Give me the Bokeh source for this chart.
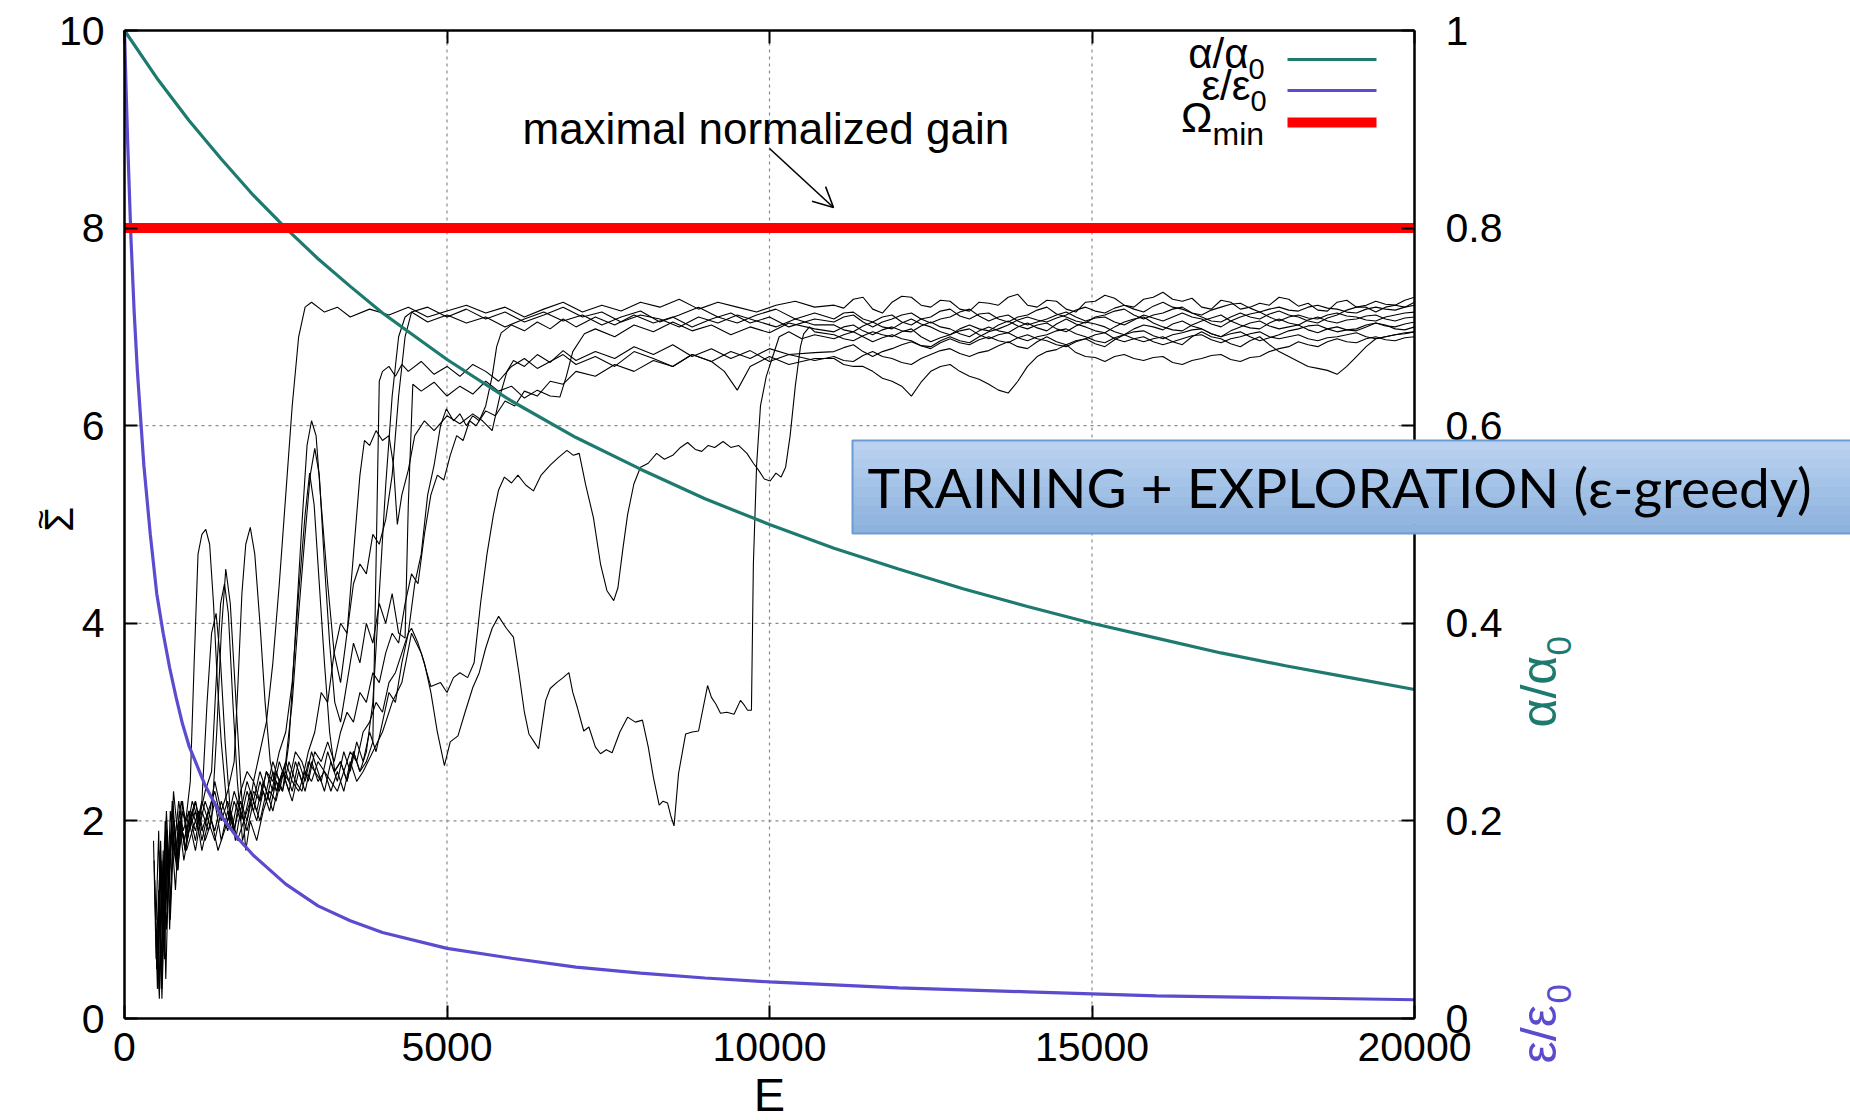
import math
from bokeh.plotting import figure
from bokeh.models import (Range1d, LinearAxis, Label, Arrow, OpenHead, FixedTicker,
                          CustomJSTickFormatter)
from bokeh.embed import file_html
from bokeh.resources import INLINE

# ---------------- data ----------------
x_ticks = [0, 5000, 10000, 15000, 20000]
y_ticks = [0, 2, 4, 6, 8, 10]
y2_ticks = [0, 0.2, 0.4, 0.6, 0.8, 1.0]
x_grid = [5000, 10000, 15000]
y_grid = [2, 4, 6, 8]

alpha_e = [0, 500, 1000, 1500, 2000, 2500, 3000, 3500, 4000, 5000, 6000, 7000, 8000, 9000,
           10000, 11000, 12000, 13000, 14000, 15000, 16000, 17000, 18000, 19000, 20000]
alpha_v = [1.0, 0.952, 0.909, 0.87, 0.833, 0.80, 0.769, 0.741, 0.714, 0.667, 0.625, 0.588, 0.556,
           0.526, 0.50, 0.476, 0.455, 0.435, 0.417, 0.40, 0.385, 0.37, 0.357, 0.345, 0.333]

eps_e = [0, 25, 50, 100, 150, 200, 300, 400, 500, 600, 700, 800, 900, 1000, 1250, 1500, 1750,
         2000, 2500, 3000, 3500, 4000, 5000, 6000, 7000, 8000, 9000, 10000, 12000, 14000, 16000,
         18000, 20000]
eps_v = [1.0, 0.94, 0.885, 0.79, 0.715, 0.655, 0.56, 0.49, 0.43, 0.39, 0.355, 0.325, 0.298, 0.276,
         0.236, 0.205, 0.183, 0.165, 0.136, 0.114, 0.099, 0.087, 0.071, 0.061, 0.052, 0.046,
         0.041, 0.037, 0.031, 0.027, 0.023, 0.021, 0.019]

omega_e = [0, 20000]
omega_v = [8, 8]

# late plateau of the ten runs: values at band_e and at the points half-way between them
band_e = [11000, 11300, 11600, 11900, 12200, 12500, 12800, 13100, 13400, 13700, 14000, 14300,
          14600, 14900, 15200, 15500, 15800, 16100, 16400, 16700, 17000, 17300, 17600, 17900,
          18200, 18500, 18800, 19100, 19400, 19700, 20000]
mid_e = [11150, 11450, 11750, 12050, 12350, 12650, 12950, 13250, 13550, 13850, 14150, 14450,
         14750, 15050, 15350, 15650, 15950, 16250, 16550, 16850, 17150, 17450, 17750, 18050,
         18350, 18650, 18950, 19250, 19550, 19850]

run1 = [(470, 1.4), (510, 0.3), (550, 1.7), (590, 0.8), (630, 2.0), (680, 1.3), (730, 1.9), (790, 1.6),
        (850, 2.1), (920, 1.8), (1000, 2.0), (1100, 2.2), (1200, 1.9), (1300, 2.1), (1400, 2.3),
        (1500, 2.0), (1600, 2.2), (1700, 1.9), (1800, 2.3), (1900, 2.5), (2000, 2.4), (2100, 2.7),
        (2200, 3.0), (2300, 3.6), (2400, 4.4), (2500, 5.3), (2600, 6.2), (2700, 6.9), (2800, 7.2),
        (2900, 7.25), (3100, 7.15), (3300, 7.2), (3500, 7.1), (3800, 7.18), (4100, 7.12), (4400, 7.2),
        (4700, 7.1), (5000, 7.16), (5300, 7.22), (5600, 7.14), (5900, 7.2), (6200, 7.1), (6500, 7.18),
        (6800, 7.25), (7100, 7.15), (7400, 7.22), (7700, 7.16), (8000, 7.25), (8300, 7.2), (8600, 7.28),
        (8900, 7.18), (9200, 7.25), (9500, 7.2), (9800, 7.15), (10100, 7.22), (10400, 7.26), (10700, 7.2)]
band1 = [7.22, 7.28, 7.18, 7.25, 7.3, 7.2, 7.26, 7.16, 7.24, 7.3, 7.22, 7.27, 7.18, 7.25, 7.32, 7.22,
         7.28, 7.35, 7.26, 7.2, 7.27, 7.18, 7.24, 7.3, 7.21, 7.17, 7.25, 7.2, 7.15, 7.22, 7.25]
mid1 = [7.19, 7.3, 7.14, 7.31, 7.22, 7.27, 7.18, 7.25, 7.22, 7.33, 7.2, 7.26, 7.15, 7.26, 7.29, 7.2,
        7.3, 7.28, 7.29, 7.18, 7.25, 7.2, 7.22, 7.28, 7.24, 7.16, 7.27, 7.2, 7.2, 7.2]

run2 = [(490, 1.0), (530, 1.9), (570, 0.5), (610, 1.5), (650, 2.1), (700, 1.4), (760, 2.3), (820, 1.9),
        (880, 2.2), (950, 2.0), (1020, 2.4), (1080, 3.6), (1140, 4.7), (1200, 4.9), (1260, 4.95),
        (1320, 4.8), (1380, 4.2), (1440, 3.4), (1500, 2.8), (1580, 2.2), (1660, 1.9), (1750, 2.2),
        (1850, 2.0), (1950, 2.3), (2050, 2.1), (2150, 2.4), (2250, 2.2), (2350, 2.5), (2450, 2.3),
        (2550, 2.6), (2650, 2.4), (2750, 2.3), (2850, 2.6), (2950, 2.5), (3050, 2.4), (3150, 2.7),
        (3250, 2.5), (3350, 2.6), (3450, 2.4), (3550, 2.7), (3650, 2.5), (3750, 2.7), (3850, 3.2),
        (3950, 4.3), (4050, 5.4), (4150, 6.3), (4250, 6.9), (4350, 7.1), (4450, 7.15), (4700, 7.05),
        (5000, 7.12), (5300, 7.04), (5600, 7.1), (5900, 7.0), (6200, 7.08), (6500, 7.15), (6800, 7.06),
        (7100, 7.12), (7400, 7.02), (7700, 7.1), (8000, 7.16), (8300, 7.05), (8600, 7.12), (8900, 7.2),
        (9200, 7.1), (9500, 7.04), (9800, 7.12), (10100, 7.18), (10400, 7.08), (10700, 7.14)]
band2 = [7.08, 7.15, 7.05, 7.12, 7.02, 7.1, 7.18, 7.08, 7.14, 7.05, 7.12, 7.2, 7.1, 7.04, 7.12, 7.18,
         7.08, 7.14, 7.2, 7.1, 7.05, 7.14, 7.08, 7.16, 7.1, 7.04, 7.12, 7.2, 7.26, 7.22, 7.3]
mid2 = [7.14, 7.08, 7.1, 7.05, 7.08, 7.16, 7.11, 7.13, 7.08, 7.1, 7.17, 7.13, 7.06, 7.1, 7.16, 7.12,
        7.12, 7.18, 7.14, 7.06, 7.1, 7.1, 7.13, 7.12, 7.06, 7.09, 7.17, 7.22, 7.23, 7.27]

run3 = [(520, 0.6), (560, 1.8), (600, 0.9), (640, 2.0), (690, 1.5), (740, 2.2), (800, 1.7), (860, 2.0),
        (930, 1.8), (1000, 2.1), (1100, 1.9), (1200, 2.2), (1300, 2.0), (1400, 2.4), (1500, 2.1),
        (1600, 2.3), (1700, 2.6), (1760, 3.4), (1820, 4.3), (1880, 4.8), (1950, 4.97), (2020, 4.7),
        (2100, 4.0), (2180, 3.2), (2260, 2.6), (2350, 2.3), (2450, 2.5), (2550, 2.3), (2650, 2.6),
        (2750, 2.4), (2850, 2.7), (2950, 2.9), (3050, 3.3), (3150, 3.2), (3250, 3.7), (3350, 4.0),
        (3450, 3.9), (3550, 4.4), (3650, 4.6), (3750, 4.5), (3850, 4.9), (3950, 4.8), (4050, 5.05),
        (4150, 5.5), (4250, 6.3), (4350, 6.9), (4450, 7.15), (4700, 7.2), (5000, 7.1), (5300, 7.18),
        (5600, 7.08), (5900, 7.15), (6200, 7.05), (6500, 7.12), (6800, 7.2), (7100, 7.1), (7400, 7.15),
        (7700, 7.05), (8000, 7.12), (8300, 7.08), (8600, 7.0), (8900, 7.1), (9200, 7.04), (9500, 7.12),
        (9800, 7.06), (10100, 7.0), (10400, 7.08), (10700, 7.02)]
band3 = [7.02, 6.95, 7.05, 6.98, 7.08, 7.0, 6.92, 7.02, 6.96, 7.06, 6.98, 7.04, 6.95, 7.05, 7.0, 6.92,
         7.02, 6.97, 7.06, 6.98, 6.9, 7.0, 7.06, 6.98, 7.02, 6.94, 7.0, 6.96, 7.04, 6.98, 7.0]
mid3 = [6.97, 7.01, 7.0, 7.04, 7.03, 6.95, 6.98, 6.98, 7.02, 7.01, 7.02, 6.98, 7.01, 7.03, 6.95, 6.98,
        7.0, 7.03, 7.01, 6.93, 6.96, 7.04, 7.01, 7.0, 6.97, 6.98, 6.97, 7.0, 7.02, 6.97]

run4 = [(540, 0.4), (580, 1.6), (620, 0.7), (660, 1.9), (710, 1.2), (770, 2.0), (830, 1.6), (900, 2.1),
        (970, 1.9), (1050, 2.2), (1150, 2.0), (1250, 2.3), (1350, 2.5), (1420, 3.4), (1490, 4.2),
        (1550, 4.4), (1610, 4.1), (1680, 3.2), (1750, 2.4), (1830, 1.8), (1900, 2.0), (2000, 2.3),
        (2100, 2.2), (2200, 2.5), (2300, 2.4), (2400, 2.7), (2500, 2.9), (2600, 3.4), (2700, 4.3),
        (2800, 5.1), (2870, 5.52), (2940, 5.2), (3020, 4.4), (3100, 3.6), (3180, 2.9), (3260, 2.5),
        (3350, 2.6), (3450, 2.4), (3550, 2.7), (3650, 2.5), (3750, 2.6), (3850, 2.8), (3900, 4.6),
        (3950, 6.45), (4000, 6.55), (4100, 6.6), (4200, 6.5), (4300, 6.62), (4400, 6.55), (4600, 6.65),
        (4800, 6.52), (5000, 6.6), (5200, 6.5), (5400, 6.62), (5600, 6.55), (5800, 6.45), (6000, 6.6),
        (6200, 6.68), (6400, 6.58), (6600, 6.65), (6800, 6.72), (7000, 6.62), (7300, 6.7), (7600, 6.6),
        (7900, 6.75), (8200, 6.68), (8500, 6.6), (8800, 6.72), (9100, 6.65), (9300, 6.55), (9500, 6.36),
        (9700, 6.6), (10000, 6.7), (10300, 6.62), (10700, 6.68)]
band4 = [6.68, 6.6, 6.55, 6.45, 6.3, 6.55, 6.62, 6.5, 6.42, 6.33, 6.6, 6.75, 6.82, 6.7, 6.65, 6.72,
         6.66, 6.7, 6.62, 6.68, 6.72, 6.65, 6.7, 6.78, 6.85, 6.8, 6.88, 6.84, 6.9, 6.86, 6.9]
mid4 = [6.62, 6.6, 6.48, 6.4, 6.44, 6.6, 6.55, 6.47, 6.36, 6.45, 6.7, 6.77, 6.74, 6.69, 6.7, 6.68,
        6.69, 6.64, 6.66, 6.71, 6.67, 6.69, 6.75, 6.8, 6.82, 6.85, 6.85, 6.88, 6.87, 6.89]

run5 = [(500, 0.9), (540, 0.2), (580, 1.3), (620, 0.6), (660, 1.7), (710, 1.0), (760, 1.8), (820, 1.5),
        (890, 1.9), (960, 1.7), (1050, 1.9), (1150, 2.1), (1250, 1.8), (1350, 2.0), (1450, 1.7),
        (1550, 1.9), (1650, 2.1), (1750, 1.8), (1850, 2.0), (1950, 2.2), (2050, 2.0), (2150, 2.3),
        (2250, 2.1), (2350, 2.4), (2450, 2.3), (2550, 2.8), (2650, 3.9), (2750, 5.0), (2830, 5.8),
        (2900, 6.05), (2970, 5.9), (3050, 5.2), (3150, 4.4), (3250, 3.7), (3350, 3.4), (3450, 3.9),
        (3550, 4.7), (3650, 5.5), (3720, 5.85), (3800, 5.8), (3900, 5.95), (4000, 5.85), (4100, 5.9),
        (4170, 5.6), (4230, 5.0), (4300, 5.3), (4400, 5.55), (4500, 5.9), (4650, 6.05), (4800, 5.95),
        (5000, 6.1), (5200, 6.02), (5400, 6.12), (5550, 6.05), (5700, 5.95), (5820, 6.3), (5930, 6.55),
        (6030, 6.66), (6200, 6.6), (6400, 6.72), (6600, 6.64), (6800, 6.76), (7000, 6.66), (7300, 6.75),
        (7600, 6.68), (7900, 6.8), (8200, 6.72), (8500, 6.82), (8800, 6.7), (9100, 6.78), (9400, 6.68),
        (9700, 6.76), (10000, 6.65), (10300, 6.72), (10700, 6.66)]
band5 = [6.7, 6.65, 6.75, 6.68, 6.62, 6.72, 6.78, 6.7, 6.76, 6.85, 6.78, 6.9, 6.82, 6.88, 6.8, 6.92,
         6.85, 6.9, 6.82, 6.95, 6.88, 6.8, 6.9, 6.75, 6.65, 6.58, 6.52, 6.7, 6.88, 6.92, 6.95]
mid5 = [6.66, 6.71, 6.7, 6.64, 6.68, 6.76, 6.73, 6.74, 6.81, 6.8, 6.85, 6.85, 6.86, 6.83, 6.87, 6.88,
        6.88, 6.85, 6.9, 6.9, 6.83, 6.86, 6.82, 6.7, 6.6, 6.56, 6.6, 6.8, 6.9, 6.93]

run6 = [(460, 1.6), (500, 0.5), (540, 1.2), (580, 0.3), (620, 1.8), (660, 1.1), (710, 2.1), (770, 1.7),
        (840, 2.2), (910, 1.9), (1000, 2.1), (1100, 1.8), (1200, 2.2), (1280, 3.2), (1350, 3.9),
        (1420, 4.1), (1490, 3.6), (1560, 2.8), (1640, 2.1), (1720, 1.8), (1800, 2.1), (1900, 1.9),
        (2000, 2.2), (2100, 2.0), (2200, 2.3), (2300, 2.1), (2400, 2.4), (2500, 2.6), (2600, 3.2),
        (2700, 4.1), (2800, 4.9), (2880, 5.5), (2950, 5.77), (3020, 5.5), (3100, 4.6), (3180, 3.8),
        (3260, 3.2), (3350, 3.0), (3450, 3.4), (3550, 3.8), (3650, 3.6), (3750, 4.0), (3850, 3.8),
        (3950, 4.2), (4050, 4.0), (4150, 4.3), (4250, 3.9), (4350, 3.85), (4400, 5.2), (4470, 6.42),
        (4600, 6.35), (4800, 6.44), (5000, 6.3), (5200, 6.4), (5400, 6.32), (5600, 6.45), (5800, 6.35),
        (6000, 6.4), (6200, 6.28), (6400, 6.36), (6600, 6.3), (6750, 6.29), (6850, 6.5), (6950, 6.75),
        (7130, 6.93), (7300, 6.98), (7600, 6.9), (7900, 7.02), (8200, 6.95), (8500, 7.05), (8800, 6.96),
        (9100, 7.02), (9400, 6.92), (9700, 7.0), (10000, 6.94), (10300, 7.04), (10700, 6.98)]
band6 = [6.95, 7.02, 6.92, 7.0, 6.95, 7.05, 6.98, 6.9, 7.0, 6.94, 7.04, 6.96, 7.08, 7.0, 6.94, 7.05,
         7.1, 7.0, 6.96, 7.06, 7.12, 7.02, 6.98, 7.08, 7.02, 7.1, 7.04, 7.08, 7.12, 7.06, 7.1]
mid6 = [7.0, 6.96, 6.97, 6.96, 7.01, 7.0, 6.93, 6.96, 6.96, 7.0, 6.99, 7.03, 7.03, 6.96, 7.0, 7.08,
        7.04, 6.97, 7.02, 7.09, 7.06, 6.99, 7.04, 7.04, 7.07, 7.06, 7.07, 7.11, 7.08, 7.09]

run7 = [(560, 0.8), (600, 1.7), (640, 0.4), (680, 1.4), (730, 1.9), (790, 1.3), (850, 2.0), (920, 1.6),
        (1000, 1.9), (1100, 2.2), (1200, 1.8), (1300, 2.1), (1400, 1.9), (1500, 2.2), (1600, 2.0),
        (1700, 2.3), (1800, 2.1), (1900, 2.4), (2000, 2.2), (2100, 2.5), (2200, 2.3), (2300, 2.6),
        (2400, 2.4), (2500, 2.5), (2600, 2.3), (2700, 2.6), (2800, 2.4), (2900, 2.7), (3000, 2.5),
        (3100, 2.3), (3200, 2.6), (3300, 2.4), (3400, 2.7), (3500, 2.5), (3600, 2.8), (3700, 2.6),
        (3800, 2.9), (3900, 2.7), (4000, 3.0), (4100, 3.3), (4200, 3.2), (4300, 3.6), (4400, 3.9),
        (4500, 4.4), (4600, 4.7), (4700, 5.3), (4800, 5.6), (4900, 6.0), (4990, 6.17), (5100, 6.05),
        (5200, 6.12), (5300, 6.0), (5400, 6.1), (5500, 6.05), (5600, 6.2), (5700, 6.5), (5770, 6.8),
        (5840, 6.94), (6000, 7.02), (6200, 6.96), (6400, 7.05), (6600, 6.98), (6800, 7.08), (7000, 7.0),
        (7300, 7.1), (7600, 7.02), (7900, 7.12), (8200, 7.04), (8500, 7.1), (8800, 7.0), (9100, 7.08),
        (9400, 7.14), (9700, 7.04), (10000, 7.1), (10300, 7.0), (10700, 7.08)]
band7 = [7.05, 7.12, 7.0, 7.08, 7.14, 7.04, 7.1, 7.18, 7.06, 7.12, 7.02, 7.08, 7.15, 7.06, 7.1, 7.02,
         7.12, 7.06, 7.14, 7.08, 7.0, 7.1, 7.15, 7.06, 7.12, 7.08, 7.14, 7.1, 7.06, 7.12, 7.15]
mid7 = [7.1, 7.05, 7.05, 7.12, 7.08, 7.08, 7.15, 7.11, 7.1, 7.06, 7.05, 7.12, 7.1, 7.09, 7.05, 7.07,
        7.09, 7.1, 7.1, 7.03, 7.06, 7.13, 7.1, 7.1, 7.09, 7.12, 7.11, 7.07, 7.1, 7.14]

run8 = [(480, 1.1), (520, 0.3), (560, 1.5), (600, 0.8), (640, 1.9), (690, 1.4), (750, 2.2), (810, 1.6),
        (870, 2.0), (940, 1.7), (1000, 2.0), (1100, 1.7), (1200, 2.1), (1300, 1.9), (1400, 2.2),
        (1500, 1.8), (1600, 2.1), (1700, 1.9), (1800, 2.2), (1900, 2.0), (2000, 2.4), (2100, 2.2),
        (2200, 2.5), (2300, 2.3), (2400, 2.6), (2500, 2.4), (2600, 2.2), (2700, 2.5), (2800, 2.3),
        (2900, 2.6), (3000, 2.4), (3100, 2.5), (3200, 2.3), (3300, 2.5), (3400, 2.3), (3500, 2.6),
        (3600, 2.4), (3700, 2.5), (3850, 2.7), (4000, 2.9), (4150, 3.2), (4300, 3.4), (4450, 3.9),
        (4600, 3.7), (4750, 3.36), (4900, 3.4), (5000, 3.3), (5100, 3.45), (5200, 3.5), (5320, 3.45),
        (5420, 3.6), (5520, 4.2), (5620, 4.7), (5720, 5.1), (5800, 5.35), (5890, 5.48), (6000, 5.42),
        (6100, 5.5), (6220, 5.4), (6340, 5.34), (6460, 5.5), (6600, 5.6), (6730, 5.68), (6860, 5.75),
        (6960, 5.7), (7050, 5.72), (7150, 5.4), (7270, 5.07), (7380, 4.6), (7480, 4.33), (7585, 4.23),
        (7650, 4.36), (7724, 4.74), (7800, 5.1), (7897, 5.41), (8000, 5.58), (8120, 5.62), (8250, 5.72),
        (8370, 5.66), (8500, 5.7), (8620, 5.78), (8730, 5.83), (8850, 5.76), (8950, 5.74), (9050, 5.8),
        (9150, 5.78), (9280, 5.84), (9400, 5.78), (9520, 5.8), (9650, 5.72), (9750, 5.62), (9830, 5.55),
        (9920, 5.46), (10010, 5.44), (10100, 5.52), (10180, 5.48), (10250, 5.58), (10320, 5.9),
        (10400, 6.4), (10480, 6.8), (10530, 6.93), (10620, 7.0), (10700, 6.95)]
band8 = [6.92, 6.86, 6.95, 6.9, 6.98, 6.85, 6.92, 6.98, 6.88, 6.94, 6.86, 6.92, 6.98, 6.9, 6.84, 6.92,
         6.96, 6.88, 6.94, 6.98, 6.9, 6.95, 6.86, 6.92, 6.98, 7.02, 6.95, 6.98, 7.04, 7.0, 7.05]
mid8 = [6.88, 6.91, 6.92, 6.95, 6.9, 6.89, 6.96, 6.92, 6.92, 6.89, 6.9, 6.96, 6.93, 6.86, 6.89, 6.95,
        6.91, 6.92, 6.97, 6.93, 6.93, 6.9, 6.89, 6.96, 7.01, 6.98, 6.97, 7.02, 7.01, 7.03]

run9 = [(500, 0.5), (540, 1.4), (580, 0.2), (620, 1.1), (660, 1.8), (700, 0.9), (750, 1.9), (810, 1.5),
        (870, 2.0), (940, 1.7), (1000, 1.9), (1100, 2.1), (1200, 1.7), (1300, 2.0), (1400, 1.8),
        (1500, 2.1), (1600, 1.9), (1700, 2.2), (1800, 2.0), (1900, 2.3), (2000, 2.1), (2100, 2.4),
        (2200, 2.2), (2300, 2.5), (2400, 2.3), (2500, 2.6), (2600, 2.4), (2700, 2.3), (2800, 2.5),
        (2900, 2.4), (3000, 2.6), (3100, 2.5), (3200, 2.4), (3300, 2.3), (3400, 2.5), (3500, 2.7),
        (3600, 2.6), (3700, 2.9), (3800, 3.0), (3900, 3.2), (4000, 3.1), (4100, 3.4), (4200, 3.5),
        (4300, 3.7), (4400, 3.9), (4450, 3.95), (4550, 3.8), (4650, 3.6), (4750, 3.3), (4850, 2.9),
        (4960, 2.56), (5050, 2.8), (5170, 2.86), (5280, 3.1), (5400, 3.35), (5500, 3.5), (5600, 3.75),
        (5700, 3.95), (5800, 4.07), (5920, 3.95), (6030, 3.86), (6110, 3.52), (6200, 3.1), (6270, 2.88),
        (6350, 2.8), (6420, 2.73), (6480, 3.0), (6530, 3.22), (6600, 3.34), (6700, 3.4), (6800, 3.45),
        (6890, 3.5), (6950, 3.3), (7020, 3.15), (7120, 2.91), (7200, 2.95), (7300, 2.75), (7380, 2.68),
        (7470, 2.72), (7560, 2.69), (7680, 2.9), (7800, 3.05), (7920, 3.0), (8030, 3.02), (8120, 2.75),
        (8200, 2.44), (8290, 2.16), (8350, 2.2), (8420, 2.18), (8470, 2.05), (8520, 1.95), (8590, 2.48),
        (8700, 2.88), (8800, 2.9), (8900, 2.91), (9040, 3.37), (9100, 3.25), (9170, 3.18), (9240, 3.09),
        (9340, 3.1), (9450, 3.08), (9550, 3.22), (9600, 3.18), (9660, 3.12), (9720, 3.12), (9750, 4.6),
        (9800, 5.6), (9860, 6.2), (9950, 6.5), (10050, 6.7), (10150, 6.9), (10300, 6.95), (10500, 6.88),
        (10700, 6.92)]
band9 = [6.88, 6.95, 6.85, 6.92, 6.86, 6.78, 6.88, 6.82, 6.9, 6.84, 6.92, 6.86, 6.8, 6.88, 6.94, 6.85,
         6.9, 6.82, 6.88, 6.92, 6.84, 6.9, 6.95, 6.88, 6.92, 6.86, 6.9, 6.94, 6.88, 6.92, 6.95]
mid9 = [6.92, 6.9, 6.89, 6.88, 6.81, 6.84, 6.84, 6.87, 6.86, 6.89, 6.88, 6.82, 6.85, 6.92, 6.88, 6.88,
        6.85, 6.85, 6.91, 6.87, 6.88, 6.93, 6.9, 6.9, 6.88, 6.89, 6.92, 6.9, 6.9, 6.94]

run10 = [(450, 1.8), (490, 0.6), (530, 1.3), (570, 0.3), (610, 1.6), (650, 0.9), (700, 1.7), (760, 2.0),
         (830, 1.5), (900, 2.2), (970, 1.8), (1050, 2.1), (1150, 1.9), (1250, 2.2), (1350, 2.0),
         (1430, 2.9), (1500, 3.9), (1570, 4.55), (1640, 4.2), (1720, 3.3), (1800, 2.4), (1880, 1.7),
         (1950, 2.0), (2050, 1.8), (2150, 2.1), (2250, 2.3), (2350, 2.2), (2450, 2.5), (2550, 2.4),
         (2650, 2.7), (2750, 2.6), (2850, 2.4), (2950, 2.7), (3050, 2.6), (3150, 2.8), (3250, 2.6),
         (3350, 2.9), (3450, 3.1), (3550, 3.0), (3650, 3.3), (3750, 3.2), (3850, 3.5), (3950, 3.4),
         (4050, 3.7), (4150, 3.9), (4250, 3.8), (4350, 4.2), (4450, 4.5), (4550, 4.4), (4650, 4.9),
         (4750, 5.3), (4850, 5.5), (4950, 5.45), (5050, 5.7), (5150, 5.9), (5250, 5.85), (5350, 6.05),
         (5450, 6.0), (5600, 6.15), (5750, 6.1), (5900, 6.25), (6050, 6.2), (6200, 6.35), (6400, 6.3),
         (6600, 6.45), (6800, 6.42), (7000, 6.55), (7300, 6.5), (7600, 6.62), (7900, 6.55), (8200, 6.66),
         (8500, 6.6), (8800, 6.72), (9100, 6.65), (9400, 6.75), (9700, 6.68), (10000, 6.78), (10300, 6.72),
         (10700, 6.74)]
band10 = [6.75, 6.82, 6.7, 6.78, 6.85, 6.8, 6.9, 6.84, 6.95, 7.02, 7.1, 7.05, 7.12, 7.2, 7.14, 7.22,
          7.15, 7.25, 7.18, 7.12, 7.2, 7.24, 7.15, 7.2, 7.16, 7.22, 7.18, 7.14, 7.2, 7.17, 7.22]
mid10 = [6.79, 6.75, 6.75, 6.82, 6.81, 6.86, 6.86, 6.9, 6.98, 7.07, 7.07, 7.09, 7.17, 7.16, 7.19, 7.18,
         7.21, 7.2, 7.14, 7.17, 7.23, 7.19, 7.18, 7.17, 7.2, 7.19, 7.15, 7.18, 7.18, 7.2]

runs = [(run1, band1, mid1), (run2, band2, mid2), (run3, band3, mid3), (run4, band4, mid4),
        (run5, band5, mid5), (run6, band6, mid6), (run7, band7, mid7), (run8, band8, mid8),
        (run9, band9, mid9), (run10, band10, mid10)]

# ---------------- layout (pixel geometry of the plot box) ----------------
W, H = 1850, 1120
FL, FR, FT, FB = 124, 1414, 30, 1018
XMAX, YMAX = 20000.0, 10.0


def dx(px):
    return (px - FL) / (FR - FL) * XMAX


def dy(py):
    return (FB - py) / (FB - FT) * YMAX


TEAL = "#1e7a6e"
PURPLE = "#5b4bcf"
FONT = "Liberation Sans"

p = figure(width=W, height=H, x_range=Range1d(dx(0), dx(W)), y_range=Range1d(dy(H), dy(0)),
           x_axis_type=None, y_axis_type=None, min_border=0,
           output_backend="svg", toolbar_location=None)
p.extra_y_ranges = {"right": Range1d(dy(H) / YMAX, dy(0) / YMAX)}
p.background_fill_color = "white"
p.border_fill_color = "white"
p.outline_line_color = None


def style_axis(ax, size, standoff):
    ax.axis_line_color = "black"
    ax.axis_line_width = 2.5
    ax.major_tick_in = 13
    ax.major_tick_out = 0
    ax.major_tick_line_width = 2
    ax.major_tick_line_color = "black"
    ax.minor_tick_line_color = None
    ax.major_label_text_font = FONT
    ax.major_label_text_font_size = f"{size}px"
    ax.major_label_text_color = "black"
    ax.major_label_standoff = standoff


xa = LinearAxis(ticker=FixedTicker(ticks=x_ticks), fixed_location=0, bounds=(0, XMAX))
style_axis(xa, 41, 14)
p.add_layout(xa, "below")

ya = LinearAxis(ticker=FixedTicker(ticks=y_ticks), fixed_location=0, bounds=(0, YMAX))
style_axis(ya, 41, 20)
p.add_layout(ya, "left")

ra = LinearAxis(y_range_name="right", ticker=FixedTicker(ticks=y2_ticks), fixed_location=XMAX,
                bounds=(0, 1),
                formatter=CustomJSTickFormatter(code="return String(Math.round(tick*10)/10);"))
style_axis(ra, 41, 31)
p.add_layout(ra, "right")

ta = LinearAxis(ticker=FixedTicker(ticks=x_ticks), fixed_location=YMAX, bounds=(0, XMAX))
style_axis(ta, 1, 0)
ta.major_label_text_color = None
p.add_layout(ta, "above")

# dotted grid lines at the tick positions, limited to the plot box
p.segment(x0=x_grid, y0=[0] * len(x_grid), x1=x_grid, y1=[YMAX] * len(x_grid),
          line_color="#8a8a8a", line_width=1.2, line_dash="3 4")
p.segment(x0=[0] * len(y_grid), y0=y_grid, x1=[XMAX] * len(y_grid), y1=y_grid,
          line_color="#8a8a8a", line_width=1.2, line_dash="3 4")

# ---------------- marks ----------------
for run, band, mid in runs:
    xs = [e for e, s in run]
    ys = [s for e, s in run]
    for k in range(len(band_e)):
        xs.append(band_e[k])
        ys.append(band[k])
        if k < len(mid_e):
            xs.append(mid_e[k])
            ys.append(mid[k])
    p.line(xs, ys, line_color="black", line_width=1.1)

p.line(alpha_e, alpha_v, y_range_name="right", line_color=TEAL, line_width=3.2)
p.line(eps_e, eps_v, y_range_name="right", line_color=PURPLE, line_width=3.2)
p.line(omega_e, omega_v, line_color="#ff0000", line_width=10)


def lab(px, py_mid, text, size, color="black", align="left", angle=0.0, font=FONT, level="annotation"):
    l = Label(x=dx(px), y=dy(py_mid), text=text, text_font=font, text_font_size=f"{size}px",
              text_color=color, text_align=align, text_baseline="middle", angle=angle, level=level)
    p.add_layout(l)
    return l


def lab_base(px, py_base, text, size, **kw):
    # place text by its alphabetic baseline (em-middle sits ~0.35 em above it)
    return lab(px, py_base - 0.35 * size, text, size, **kw)


# ---------------- legend (manual) ----------------
leg_x0, leg_x1 = dx(1287), dx(1376)
p.segment(x0=[leg_x0], y0=[dy(59)], x1=[leg_x1], y1=[dy(59)], line_color=TEAL, line_width=3)
p.segment(x0=[leg_x0], y0=[dy(90)], x1=[leg_x1], y1=[dy(90)], line_color=PURPLE, line_width=3)
p.segment(x0=[leg_x0], y0=[dy(122)], x1=[leg_x1], y1=[dy(122)], line_color="#ff0000", line_width=10)

lab_base(1248, 68, "α/α", 42, align="right")
lab_base(1248, 79, "0", 29)
lab_base(1250, 100, "ε/ε", 42, align="right")
lab_base(1250, 111, "0", 29)
lab_base(1212, 132, "Ω", 42, align="right")
lab_base(1212, 145, "min", 32)

# ---------------- axis titles ----------------
lab_base(769, 1110, "E", 47, align="center")
lab(58, 519, "Σ", 40, align="center", angle=math.pi / 2)
lab(39, 519, "~", 34, align="center", angle=math.pi / 2)
# right-hand titles, rotated to read bottom-to-top; the em-middle sits 0.35 em left of the baseline
lab(1556 - 0.35 * 50, 727, "α/α", 50, color=TEAL, angle=math.pi / 2)
lab(1571 - 0.35 * 35, 655, "0", 35, color=TEAL, angle=math.pi / 2)
lab(1556 - 0.35 * 50, 1063, "ε/ε", 50, color=PURPLE, angle=math.pi / 2)
lab(1571 - 0.35 * 35, 1003, "0", 35, color=PURPLE, angle=math.pi / 2)

# ---------------- annotation ----------------
lab_base(522, 143, "maximal normalized gain", 44)
p.add_layout(Arrow(end=OpenHead(size=20, line_width=1.6, line_color="black"),
                   x_start=dx(769), y_start=dy(148), x_end=dx(833), y_end=dy(207),
                   line_width=1.6, line_color="black"))

# gradient box (drawn above the axes), then its text
grad = ["#bad2ef", "#b5ceed", "#b0cbeb", "#abc7e9", "#a6c4e7", "#a1c0e5", "#9cbde3",
        "#97b9e1", "#92b6df", "#8db2dd"]
bx0, bx1, by0, by1 = 852, W + 4, 440, 533
n = len(grad)
step = (by1 - by0) / n
for k, c in enumerate(grad):
    r = p.quad(left=[dx(bx0)], right=[dx(bx1)], top=[dy(by0 + k * step)],
               bottom=[dy(by0 + (k + 1) * step) - 0.005], fill_color=c, line_color=None)
    r.level = "annotation"
rb = p.quad(left=[dx(bx0)], right=[dx(bx1)], top=[dy(by0)], bottom=[dy(by1)],
            fill_color=None, line_color="#6b9bd5", line_width=2)
rb.level = "annotation"
lab(867, 486, "TRAINING + EXPLORATION (ε-greedy)", 55, font="Lato", level="overlay")

open("out.html", "w").write(file_html(p, INLINE))
